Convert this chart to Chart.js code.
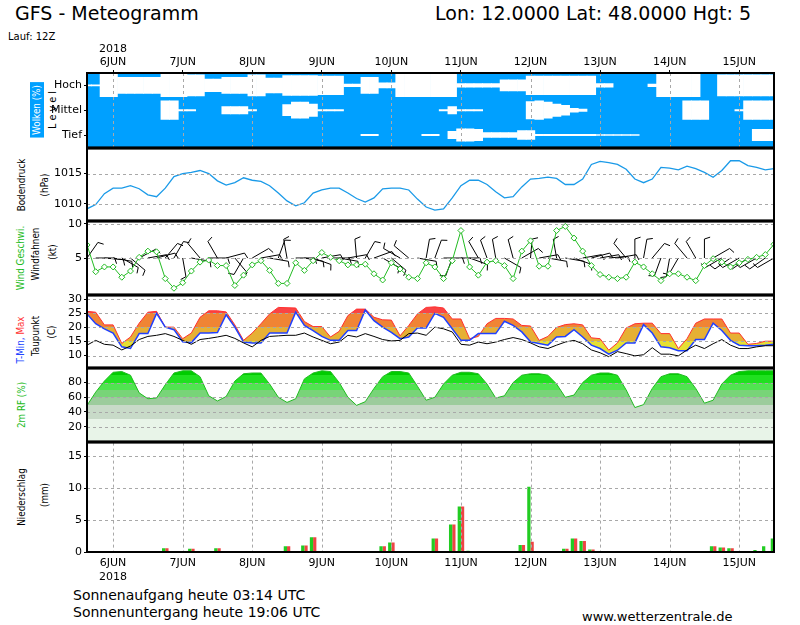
<!DOCTYPE html>
<html>
<head>
<meta charset="utf-8">
<script src="https://cdn.jsdelivr.net/npm/chart.js@4.4.1/dist/chart.umd.min.js"></script>
<style>
body { margin: 0; width: 800px; height: 625px; overflow: hidden; position: relative; background: #fff; font-family: "DejaVu Sans", sans-serif; }
canvas { position: absolute; left: 0; }
.t { position: absolute; white-space: nowrap; color: #000; }
.v { position: absolute; white-space: nowrap; font-size: 10px; line-height: 12px; transform: translate(-50%, -50%) rotate(-90deg) scaleX(0.88); }
</style>
</head>
<body>
<div class="t" style="left:15px;top:2px;font-size:19px">GFS - Meteogramm</div>
<div class="t" style="left:435px;top:2px;font-size:19px">Lon: 12.0000 Lat: 48.0000 Hgt: 5</div>
<div class="t" style="left:8px;top:31px;font-size:10px">Lauf: 12Z</div>

<div class="v" style="left:37px;top:110px;background:#00a0ff;color:#fff;padding:1px 3px">Wolken (%)</div>
<div class="v" style="left:53px;top:110px;font-size:11px">L e v e l</div>
<div class="v" style="left:22px;top:185px">Bodendruck</div>
<div class="v" style="left:45px;top:185px">(hPa)</div>
<div class="v" style="left:21px;top:258px;color:#22bb22">Wind Geschwi.</div>
<div class="v" style="left:36px;top:254px">Windfahnen</div>
<div class="v" style="left:53px;top:252px">(kt)</div>
<div class="v" style="left:21px;top:340px"><span style="color:#2244ff">T-Min,</span> <span style="color:#ff3333">Max</span></div>
<div class="v" style="left:36px;top:336px">Taupunkt</div>
<div class="v" style="left:52px;top:332px">(C)</div>
<div class="v" style="left:22px;top:405px;color:#22bb22">2m RF (%)</div>
<div class="v" style="left:22px;top:497px">Niederschlag</div>
<div class="v" style="left:45px;top:495px">(mm)</div>

<div class="t" style="left:73px;top:587px;font-size:14px">Sonnenaufgang heute 03:14 UTC</div>
<div class="t" style="left:73px;top:604px;font-size:14px">Sonnenuntergang heute 19:06 UTC</div>
<div class="t" style="left:582px;top:609px;font-size:13px">www.wetterzentrale.de</div>

<script>
// time axis: hours after 5JUN 15Z, 3-hourly GFS steps
const steps = [];
for (let i = 0; i < 80; i++) steps.push(i * 3);
const dayTicks = [9, 33, 57, 81, 105, 129, 153, 177, 201, 225];
const dayLabels = ['6JUN', '7JUN', '8JUN', '9JUN', '10JUN', '11JUN', '12JUN', '13JUN', '14JUN', '15JUN'];
const yearLabel = '2018';

// cloud cover per layer (%)
const cloudHigh = [95,95,10,10,35,35,35,35,35,10,
  10,10,15,15,50,50,35,35,35,15,
  15,40,40,20,20,20,20,25,25,25,
  90,90,35,35,80,80,10,10,10,10,
  10,10,10,85,85,85,85,85,55,55,
  55,25,25,25,25,25,25,25,25,85,
  85,100,100,100,100,90,10,10,10,10,
  10,100,100,15,15,15,15,15,15,15];
const cloudMid = [100,100,100,100,100,100,100,100,100,25,
  25,95,95,100,100,100,70,70,70,95,
  100,100,100,55,35,35,50,95,95,95,
  100,100,100,100,100,100,100,100,100,100,
  100,95,70,95,95,95,100,100,100,100,
  100,30,25,35,50,60,85,90,100,100,
  100,100,100,100,100,100,100,100,100,25,
  25,25,100,100,100,95,25,25,25,25];
const cloudLow = [100,100,100,100,100,100,100,100,100,100,
  100,100,100,100,100,100,100,100,100,100,
  100,100,100,100,100,100,100,100,100,100,
  100,100,95,95,100,100,100,100,100,95,
  95,100,70,50,50,55,80,80,80,80,
  65,65,95,95,95,95,95,95,95,97,
  97,97,97,97,100,100,100,100,100,100,
  100,100,100,100,100,100,100,55,55,55];
const levelNames = { 50: 'Tief', 150: 'Mittel', 250: 'Hoch' };

// surface pressure (hPa)
const pressure = [1009.2,1009.9,1011.7,1012.6,1012.6,1013.0,1012.5,1011.5,1011.2,1012.6,
  1014.5,1015.0,1015.2,1015.5,1015.0,1013.8,1013.1,1013.5,1014.3,1013.9,
  1013.7,1013.0,1011.8,1010.5,1009.7,1010.2,1011.8,1012.3,1012.6,1012.6,
  1011.8,1010.9,1010.3,1011.0,1012.5,1012.6,1012.6,1012.3,1010.8,1009.5,
  1009.0,1009.2,1011.0,1013.0,1013.9,1013.9,1013.2,1012.0,1011.0,1011.2,
  1012.8,1014.1,1014.2,1014.4,1014.2,1013.2,1013.2,1014.1,1016.5,1017.0,
  1016.8,1016.5,1015.7,1014.1,1013.5,1014.1,1016.0,1015.9,1015.6,1016.2,
  1015.8,1015.2,1014.4,1015.5,1017.1,1017.1,1016.3,1016.0,1015.6,1015.8];

// wind speed (kt) and direction (deg, from)
const windSpeed = [6.9,3.0,3.7,3.7,2.2,3.1,5.1,6.0,5.9,2.0,
  0.6,1.4,3.1,4.4,4.7,3.9,3.9,1.0,2.5,4.0,
  4.6,3.2,1.3,1.3,4.3,3.2,4.6,5.8,5.1,4.6,
  4.0,4.0,4.1,2.7,1.8,4.3,3.4,2.2,2.0,4.3,
  3.7,2.0,4.6,9.0,3.7,2.5,4.4,4.6,3.9,2.0,
  6.0,7.5,3.8,3.8,9.0,9.6,7.9,6.0,3.9,2.6,
  2.2,2.0,2.2,4.4,3.7,2.7,1.7,2.7,2.7,2.2,
  1.7,3.9,4.9,4.4,3.7,4.3,4.8,5.1,5.5,7.0];
const windDir = [35,90,95,100,120,130,62,80,75,40,
  30,170,100,320,90,330,75,140,210,60,
  80,100,20,350,90,100,110,80,90,100,
  80,355,30,70,120,130,300,310,100,10,
  20,90,200,90,110,330,340,350,120,345,
  60,5,80,100,350,100,110,80,75,80,
  85,80,320,0,10,40,200,190,210,320,
  330,0,60,240,235,240,235,240,235,240];

// temperature (C)
const tMax = [25.7,25.4,20.9,20.9,14.3,16.6,21.5,25.4,25.7,20.1,
  20.1,16.0,18.0,23.6,25.9,25.9,25.5,20.9,15.4,18.0,
  21.3,24.8,27.1,27.0,26.9,22.1,20.3,20.3,16.6,18.6,
  24.2,26.5,26.5,23.6,22.7,22.6,17.0,20.7,24.8,27.1,
  27.3,26.9,23.0,23.0,16.0,16.8,21.3,23.2,23.2,23.0,
  20.7,20.5,15.4,16.8,20.0,21.0,21.3,20.9,16.3,16.0,
  11.9,14.5,19.8,21.3,21.5,21.5,17.8,17.8,12.5,16.0,
  21.5,23.0,23.0,23.0,18.0,18.0,14.0,14.3,15.1,15.1];
const tMin = [24.8,21.3,19.5,18.0,13.1,12.5,17.8,17.8,25.0,20.1,
  19.2,14.9,14.6,18.0,18.0,18.2,24.5,20.1,14.8,14.5,
  14.5,18.0,18.0,18.0,25.4,20.7,18.9,16.8,15.4,15.4,
  18.9,18.9,26.2,22.4,20.1,18.2,16.0,16.6,19.8,19.8,
  25.0,23.6,19.5,15.4,15.4,17.8,17.8,17.8,22.2,20.7,
  18.4,14.9,14.3,13.7,16.6,16.8,19.2,16.6,13.7,12.5,
  10.5,11.9,14.5,14.5,21.0,18.0,13.1,12.8,11.7,11.7,
  15.7,15.7,21.5,18.9,15.4,13.7,13.5,13.5,13.7,14.0];
const dewPoint = [13.7,15.4,14.0,13.7,12.0,13.4,15.7,16.8,17.2,17.8,
  16.8,15.4,14.0,15.7,16.1,16.6,17.2,16.1,14.5,13.1,
  15.4,16.8,17.0,17.2,17.2,18.0,16.6,15.4,14.2,14.8,
  17.2,16.6,17.8,16.8,15.7,15.2,15.4,17.8,18.0,17.2,
  20.1,19.5,18.4,14.0,13.7,14.8,14.2,14.8,15.7,16.4,
  15.7,14.5,13.1,12.5,13.7,14.8,15.4,14.2,12.0,11.0,
  9.6,11.4,10.7,9.9,10.3,12.8,10.5,10.5,9.9,12.0,
  13.7,12.5,14.2,15.7,13.7,12.5,12.5,13.1,13.5,13.5];

// 2m relative humidity (%)
const relHum = [48.8,67,82,94,95,90,66,58,59,77,
  93,96,96,88,62,55,61,82,92,93,
  93,78,60,53,58,85,93,96,95,80,
  60,49,54,72,88,95,95,93,75,56,
  60,78,90,94,94,92,78,59,62,80,
  90,92,92,90,78,60,63,80,90,93,
  93,90,70,46,50,72,88,92,92,88,
  72,52,56,78,90,95,96,96,96,96];

// precipitation (mm / 3h): total (green) and large scale (red)
const precipTotal = [0,0,0,0,0,0,0,0,0,0.6,
  0,0,0.5,0,0,0.6,0,0,0,0,
  0,0,0,0.9,0,1.0,2.3,0,0,0,
  0,0,0,0,0.9,1.5,0,0,0.1,0,
  2.1,0,4.3,7.1,0.2,0,0,0,0,0,
  1.1,10.2,0,0,0,0.5,2.1,1.7,0.4,0,
  0,0,0,0,0,0,0,0,0,0,
  0,0,0.9,0.7,0.6,0,0,0.3,0.9,2.1];
const precipLarge = [0,0,0,0,0,0,0,0,0.1,0.6,
  0,0,0.5,0,0,0.6,0.1,0.1,0,0,
  0,0,0,0.9,0,1.0,2.3,0,0,0,
  0,0,0,0,0.9,1.5,0,0,0.1,0,
  2.1,0,4.3,7.1,0,0,0,0,0,0,
  1.1,1.6,0,0,0,0.5,2.1,1.7,0.4,0,
  0,0,0,0,0,0,0,0,0,0,
  0,0.1,0.9,0.7,0.6,0.1,0,0,0,0];

const tickPress = [1010, 1015];
const tickWind = [5, 10];
const tickTemp = [10, 15, 20, 25, 30];
const tickRH = [20, 40, 60, 80];
const tickPrecip = [0, 5, 10, 15];

Chart.defaults.font.family = '"DejaVu Sans", sans-serif';
Chart.defaults.color = '#000';

const xy = arr => steps.map((s, i) => ({ x: s, y: arr[i] }));

function bands(chart, list) {
  const { ctx, chartArea, scales } = chart;
  if (!chartArea) return 'rgba(0,0,0,0)';
  const y = scales.y;
  const g = ctx.createLinearGradient(0, y.getPixelForValue(y.min), 0, y.getPixelForValue(y.max));
  const span = y.max - y.min;
  const clamp = v => Math.min(Math.max((v - y.min) / span, 0), 1);
  list.forEach(([lo, hi, col]) => {
    g.addColorStop(clamp(lo), col);
    g.addColorStop(clamp(hi), col);
  });
  return g;
}

const panelPlugin = {
  id: 'panel',
  beforeDatasetsDraw(chart, args, o) {
    const { ctx, chartArea: a, scales: { x, y } } = chart;
    if (o.bg) {
      ctx.save();
      ctx.fillStyle = o.bg;
      ctx.fillRect(a.left, a.top, a.right - a.left, a.bottom - a.top);
      ctx.restore();
    }
    if (o.barbs) {
      const by = y.getPixelForValue(5);
      ctx.save();
      ctx.strokeStyle = '#000';
      ctx.lineWidth = 1;
      windDir.forEach((d, i) => {
        const bx = x.getPixelForValue(steps[i]);
        const r = d * Math.PI / 180;
        const ex = bx + Math.sin(r) * 19, ey = by - Math.cos(r) * 19;
        const t = r + Math.PI * 0.4;
        ctx.beginPath();
        ctx.moveTo(bx, by);
        ctx.lineTo(ex, ey);
        ctx.lineTo(ex + Math.sin(t) * 6, ey - Math.cos(t) * 6);
        ctx.stroke();
      });
      ctx.restore();
    }
  },
  afterDatasetsDraw(chart, args, o) {
    const { ctx, chartArea: a, scales: { x, y } } = chart;
    ctx.save();
    ctx.strokeStyle = '#a8a8a8';
    ctx.lineWidth = 1;
    ctx.setLineDash([3, 3]);
    (o.h || []).forEach(v => {
      const p = Math.round(y.getPixelForValue(v)) + 0.5;
      ctx.beginPath(); ctx.moveTo(a.left, p); ctx.lineTo(a.right, p); ctx.stroke();
    });
    if (o.v) dayTicks.forEach(v => {
      const p = Math.round(x.getPixelForValue(v)) + 0.5;
      ctx.beginPath(); ctx.moveTo(p, a.top); ctx.lineTo(p, a.bottom); ctx.stroke();
    });
    ctx.restore();
  },
  afterDraw(chart) {
    const { ctx, chartArea: a } = chart;
    ctx.save();
    ctx.strokeStyle = '#000';
    ctx.lineWidth = 2;
    ctx.strokeRect(a.left, a.top, a.right - a.left, a.bottom - a.top);
    ctx.restore();
  }
};

function makePanel(top, bottom, conf) {
  const axT = conf.axisTop || 0, axB = conf.axisBottom || 0, pad = 8;
  const cv = document.createElement('canvas');
  cv.width = 800;
  cv.height = bottom - top + axT + axB + 2 * pad;
  cv.style.top = (top - axT - pad) + 'px';
  document.body.appendChild(cv);

  const xAxis = { type: 'linear', min: 0, max: 237, offset: false, display: false };
  if (axT || axB) {
    Object.assign(xAxis, {
      display: true,
      position: axT ? 'top' : 'bottom',
      afterBuildTicks: s => { s.ticks = dayTicks.map(v => ({ value: v })); },
      afterFit: s => { s.height = axT || axB; },
      grid: { drawOnChartArea: false, drawTicks: !!axT, tickLength: 3, color: '#000', offset: false },
      border: { display: false },
      ticks: {
        autoSkip: false, maxRotation: 0, padding: axT ? 1 : 5,
        font: { size: 11 }, color: '#000',
        callback: (v, i) => i === 0 ? (axT ? [yearLabel, dayLabels[i]] : [dayLabels[i], yearLabel]) : dayLabels[i]
      }
    });
  }

  return new Chart(cv, {
    type: conf.type,
    data: { datasets: conf.datasets },
    options: {
      responsive: false,
      animation: false,
      events: [],
      layout: { padding: { left: 0, right: 26, top: pad, bottom: pad } },
      plugins: {
        legend: { display: false },
        tooltip: { enabled: false },
        panel: { h: conf.hLines, v: conf.vLines, bg: conf.bg, barbs: conf.barbs }
      },
      scales: {
        x: xAxis,
        y: {
          type: 'linear', min: conf.yMin, max: conf.yMax,
          afterFit: s => { s.width = 87; },
          afterBuildTicks: s => { s.ticks = conf.yTicks.map(v => ({ value: v })); },
          grid: { drawOnChartArea: false, drawTicks: true, tickLength: 3, color: '#000' },
          border: { display: false },
          ticks: { padding: 2, font: { size: conf.yFont || 11 }, color: '#000', callback: conf.yLabel || (v => v) }
        }
      }
    },
    plugins: [panelPlugin]
  });
}

function layerBars(cov, center) {
  return {
    type: 'bar',
    data: steps.map((s, i) => ({ x: s, y: [center - (100 - cov[i]) / 2, center + (100 - cov[i]) / 2] }))
      .filter((d, i) => cov[i] < 100),
    backgroundColor: '#ffffff', borderWidth: 0, grouped: false,
    barPercentage: 1, categoryPercentage: 1
  };
}

// clouds
makePanel(73, 148, {
  type: 'bar', axisTop: 33,
  datasets: [layerBars(cloudHigh, 250), layerBars(cloudMid, 150), layerBars(cloudLow, 50)],
  yMin: 0, yMax: 300, yTicks: [50, 150, 250], yLabel: v => levelNames[v], yFont: 11,
  vLines: true, bg: '#00a0ff'
});

// pressure
makePanel(148, 221, {
  type: 'line',
  datasets: [{ data: xy(pressure), borderColor: '#1a9ae8', borderWidth: 1.3, pointRadius: 0, tension: 0 }],
  yMin: 1007.3, yMax: 1019.1, yTicks: tickPress, hLines: tickPress
});

// wind
makePanel(221, 295, {
  type: 'line',
  datasets: [{
    data: xy(windSpeed), borderColor: '#22bb22', borderWidth: 1, tension: 0,
    pointStyle: 'rectRot', pointRadius: 3, pointBorderColor: '#22bb22', pointBackgroundColor: '#ffffff', pointBorderWidth: 1
  }],
  yMin: -0.3, yMax: 10.3, yTicks: tickWind, hLines: tickWind, barbs: true
});

// temperature
makePanel(295, 368, {
  type: 'line',
  datasets: [
    { data: xy(dewPoint), borderColor: '#000000', borderWidth: 1, pointRadius: 0, tension: 0, fill: false },
    { data: xy(tMin), borderColor: '#2040ff', borderWidth: 1.5, pointRadius: 0, tension: 0, fill: false },
    {
      data: xy(tMax), borderColor: '#ff3030', borderWidth: 1, pointRadius: 0, tension: 0, fill: 1,
      backgroundColor: c => bands(c.chart, [[-50, 15, '#e6e034'], [15, 20, '#e6b034'], [20, 25, '#f08434'], [25, 60, '#fa4444']])
    }
  ],
  yMin: 5.8, yMax: 31.3, yTicks: tickTemp, hLines: tickTemp
});

// relative humidity
makePanel(368, 442, {
  type: 'line',
  datasets: [{
    data: xy(relHum), borderColor: '#22bb22', borderWidth: 1, pointRadius: 0, tension: 0, fill: 'origin',
    backgroundColor: c => bands(c.chart, [[0, 30, '#e8f4e8'], [30, 50, '#c8dac8'], [50, 60, '#9ccc9c'],
      [60, 70, '#78d478'], [70, 80, '#50e450'], [80, 90, '#20e020'], [90, 110, '#00cc00']])
  }],
  yMin: 0, yMax: 99, yTicks: tickRH, hLines: tickRH
});

// precipitation
makePanel(442, 552, {
  type: 'bar', axisBottom: 30,
  datasets: [
    { data: xy(precipTotal), backgroundColor: '#22cc22', borderWidth: 0, barPercentage: 1, categoryPercentage: 0.75 },
    { data: xy(precipLarge), backgroundColor: '#ee4444', borderWidth: 0, barPercentage: 1, categoryPercentage: 0.75 }
  ],
  yMin: 0, yMax: 17.1, yTicks: tickPrecip, hLines: [5, 10, 15], vLines: true
});
</script>
</body>
</html>
